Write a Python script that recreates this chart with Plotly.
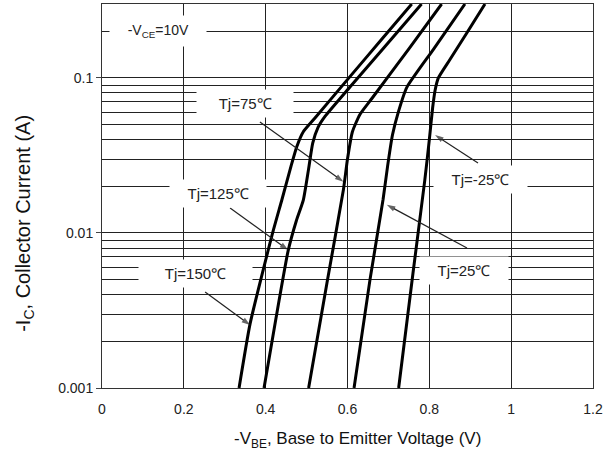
import math
import plotly.graph_objects as go

# ---- data ----
tj150_v = [0.335, 0.362, 0.417, 0.440, 0.462, 0.476, 0.492, 0.520, 0.606, 0.680, 0.757]
tj150_i = [0.001, 0.0026, 0.010, 0.0165, 0.027, 0.036, 0.045, 0.055, 0.102, 0.173, 0.30]

tj125_v = [0.396, 0.425, 0.455, 0.475, 0.492, 0.505, 0.515, 0.528, 0.545, 0.606, 0.690, 0.781]
tj125_i = [0.001, 0.0028, 0.0077, 0.012, 0.0163, 0.026, 0.038, 0.048, 0.0565, 0.0875, 0.158, 0.30]

tj75_v = [0.505, 0.550, 0.590, 0.600, 0.612, 0.630, 0.660, 0.750, 0.830]
tj75_i = [0.001, 0.0048, 0.019, 0.030, 0.045, 0.058, 0.074, 0.154, 0.30]

tj25_v = [0.616, 0.655, 0.687, 0.698, 0.710, 0.724, 0.745, 0.810, 0.887]
tj25_i = [0.001, 0.005, 0.0165, 0.027, 0.043, 0.060, 0.087, 0.153, 0.30]

tjm25_v = [0.725, 0.760, 0.789, 0.800, 0.808, 0.814, 0.822, 0.850, 0.890, 0.936]
tjm25_i = [0.001, 0.0055, 0.022, 0.040, 0.064, 0.083, 0.100, 0.131, 0.192, 0.30]

curves = [(tj150_v, tj150_i), (tj125_v, tj125_i), (tj75_v, tj75_i),
          (tj25_v, tj25_i), (tjm25_v, tjm25_i)]

# labels: text, centre (V, A); arrows: tail (V, A) -> tip (V, A)
label_text = ["Tj=150℃", "Tj=125℃", "Tj=75℃", "Tj=25℃", "Tj=-25℃"]
label_v = [0.229, 0.284, 0.350, 0.884, 0.924]
label_i = [0.00547, 0.0181, 0.0685, 0.00573, 0.0221]
tail_v = [0.252, 0.313, 0.386, 0.892, 0.919]
tail_i = [0.00416, 0.0145, 0.052, 0.0080, 0.0283]
tip_v = [0.362, 0.455, 0.590, 0.696, 0.814]
tip_i = [0.00255, 0.00776, 0.0214, 0.0152, 0.0428]

vce_text = "-V<sub>CE</sub>=10V"
vce_v, vce_i = 0.137, 0.202

SANS = "Liberation Sans, Arial, sans-serif"
tick_font = dict(family=SANS, size=14, color="#222")
label_font = dict(family=SANS, size=15, color="#222")

fig = go.Figure()
for v, i in curves:
    fig.add_trace(go.Scatter(x=v, y=i, mode="lines",
                             line=dict(color="black", width=3, shape="spline", smoothing=0.5),
                             showlegend=False, hoverinfo="skip"))

# arrows (line + arrow-head marker pointing along the segment)
for av, ai, xv, xi in zip(tail_v, tail_i, tip_v, tip_i):
    fig.add_trace(go.Scatter(x=[av, xv], y=[ai, xi], mode="lines+markers",
                             line=dict(color="#222", width=1.2),
                             marker=dict(symbol=["circle", "arrow"], size=[0, 9],
                                         angleref="previous", color="#222",
                                         line=dict(width=0)),
                             showlegend=False, hoverinfo="skip"))

NB = "&nbsp;"
annotations = []
annotations.append(dict(x=vce_v, y=math.log10(vce_i), xref="x", yref="y",
                        text=NB * 3 + vce_text + NB * 3,
                        showarrow=False, bgcolor="white", borderpad=6,
                        font=dict(family=SANS, size=14, color="#222")))
pads = [5, 3, 4, 3, 3]
for t, lv, li, p in zip(label_text, label_v, label_i, pads):
    annotations.append(dict(x=lv, y=math.log10(li), xref="x", yref="y",
                            text=NB * p + t + NB * p,
                            showarrow=False, bgcolor="white", borderpad=5,
                            font=label_font))
# axis titles
annotations.append(dict(x=0.521, y=-0.135, xref="paper", yref="paper", showarrow=False,
                        text="-V<sub>BE</sub>, Base to Emitter Voltage (V)",
                        xanchor="center", yanchor="middle",
                        font=dict(family=SANS, size=17, color="#111")))
annotations.append(dict(x=-0.157, y=0.43, xref="paper", yref="paper", showarrow=False,
                        text="-I<sub>C</sub>, Collector Current (A)", textangle=-90,
                        xanchor="center", yanchor="middle",
                        font=dict(family=SANS, size=20, color="#111")))

fig.update_layout(
    width=612, height=463,
    margin=dict(l=102, r=19, t=4, b=75),
    paper_bgcolor="white", plot_bgcolor="white",
    annotations=annotations,
    font=dict(family=SANS, color="#222"),
)
fig.update_xaxes(
    range=[0, 1.2], dtick=0.2, tick0=0,
    showgrid=True, gridcolor="#222", gridwidth=1,
    showline=True, linecolor="#333", linewidth=1, mirror=True,
    ticks="", zeroline=False, ticklabelstandoff=8,
    tickfont=tick_font,
)
fig.update_yaxes(
    type="log", range=[-3, math.log10(0.30)], dtick=1, tickformat=".3~f",
    showgrid=True, gridcolor="#222", gridwidth=1,
    minor=dict(dtick="D1", showgrid=True, gridcolor="#222", gridwidth=1, ticks=""),
    showline=True, linecolor="#333", linewidth=1, mirror=True,
    ticks="outside", ticklen=5, tickcolor="#444",
    tickfont=tick_font,
)

fig.write_html("out.html")
